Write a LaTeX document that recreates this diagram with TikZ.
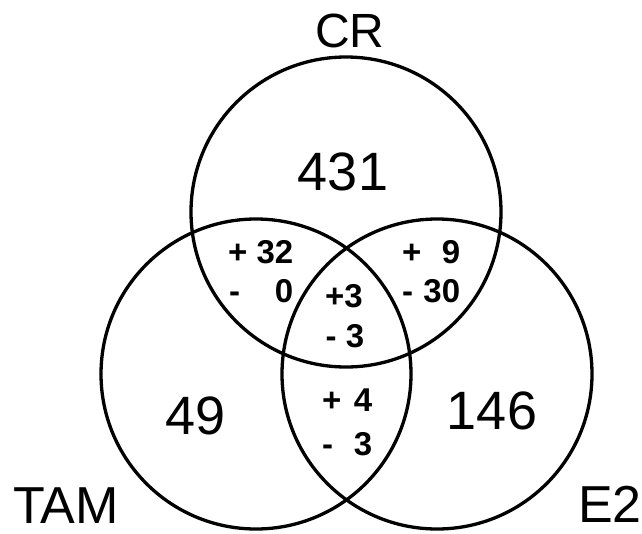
\documentclass[tikz,border=0pt]{standalone}
\usepackage{fontspec}
\setmainfont{Liberation Sans}
\begin{document}
\begin{tikzpicture}[x=1pt,y=-1pt,line join=round,line cap=round,
	vennset/.style={draw,circle,line width=3.3pt,minimum size=310pt,inner sep=0pt},
	setname/.style={anchor=base,inner sep=0pt,font=\fontsize{52}{52}\selectfont},
	bignum/.style={anchor=base,inner sep=0pt,font=\fontsize{54}{54}\selectfont},
	smallnum/.style={anchor=base west,inner sep=0pt,font=\fontsize{33}{33}\selectfont\bfseries}]
	\useasboundingbox (0,0) rectangle (642,533);
	\node[vennset] (cr) at (346,212) {};
	\node[vennset] (tam) at (256,374) {};
	\node[vennset] (e2) at (437,374) {};
	\node[setname,font=\fontsize{48}{48}\selectfont] (crname) at (350,47) {CR};
	\node[setname] (tamname) at (66,523) {TAM};
	\node[setname,anchor=base west] (e2name) at (578,522) {E2};
	\node[bignum] (ncr) at (343,190) {431};
	\node[bignum] (ntam) at (196,434) {49};
	\node[bignum] (ne2) at (492,429) {146};
	\node[smallnum] (crtamup) at (228,263) {+ 32};
	\node[smallnum] (crtamdn) at (229,302) {\hbox to 64pt{-\hfill 0}};
	\node[smallnum] (cre2up) at (402,263) {\hbox to 58pt{+\hfill 9}};
	\node[smallnum] (cre2dn) at (402,302) {\hbox to 58pt{-\hfill 30}};
	\node[smallnum,anchor=base] (allup) at (344,307) {+3};
	\node[smallnum,anchor=base] (alldn) at (345,347) {- 3};
	\node[smallnum] (tame2up) at (322,411) {\hbox to 50pt{+\hfill 4}};
	\node[smallnum] (tame2dn) at (322,455) {\hbox to 50pt{-\hfill 3}};
\end{tikzpicture}
\end{document}
